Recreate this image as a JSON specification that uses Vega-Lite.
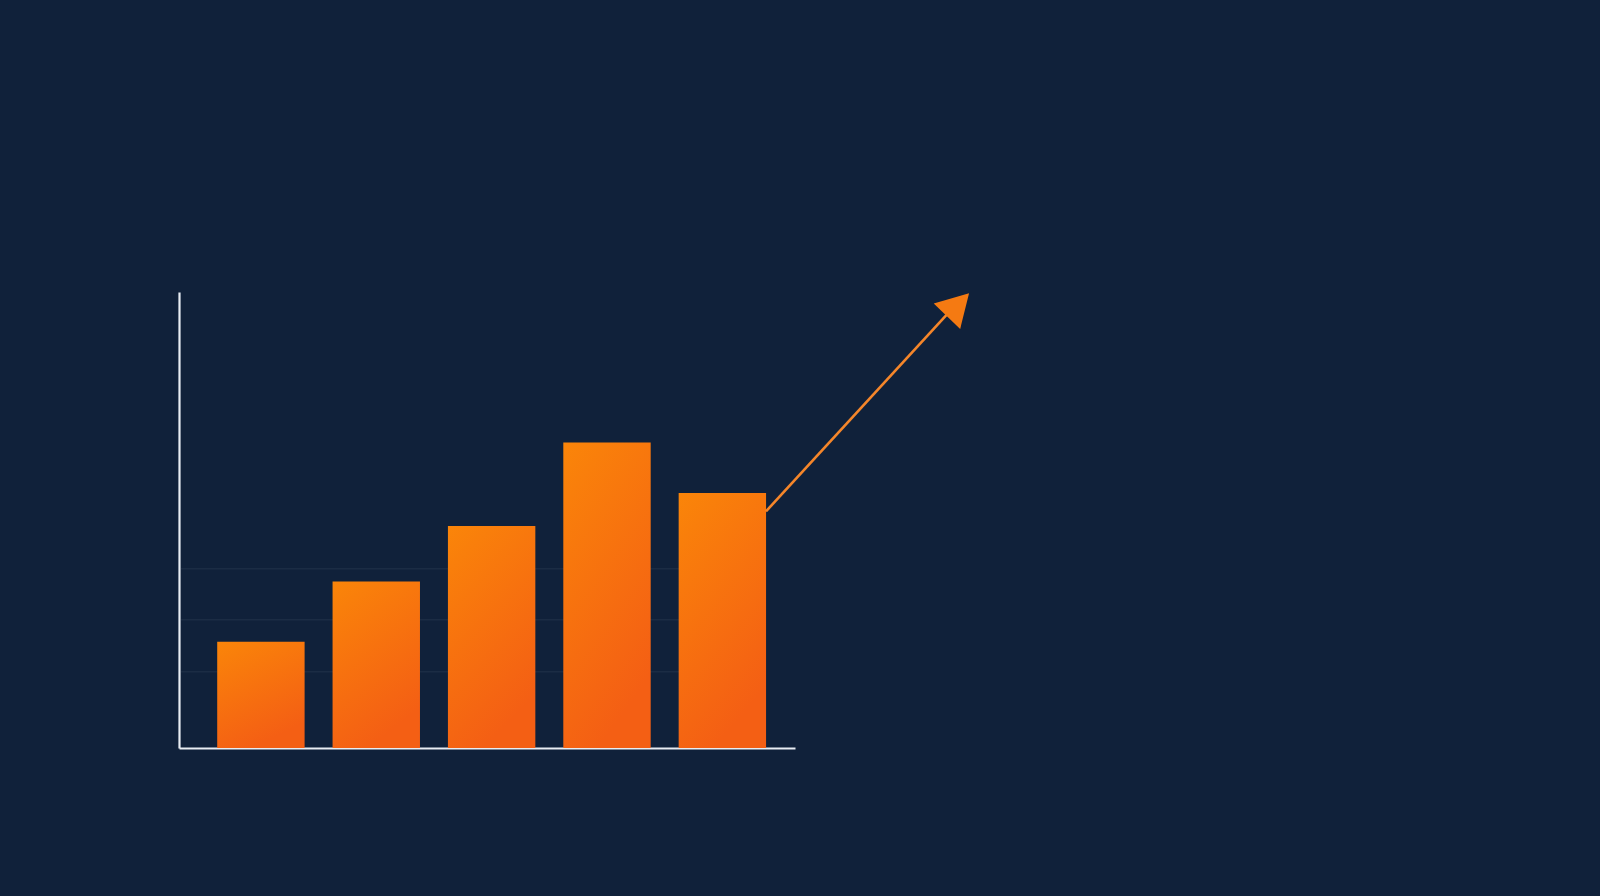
{
  "$schema": "https://vega.github.io/schema/vega-lite/v6.json",
  "description": "Five rising orange bars with an upward arrow on a dark navy background.",
  "autosize": "none",
  "width": 616,
  "height": 456,
  "padding": {"left": 179, "top": 292, "right": 805, "bottom": 148},
  "background": "#10213a",
  "config": {
    "view": {"stroke": null},
    "axis": {"grid": false, "ticks": false, "labels": false, "title": null, "domain": true, "domainColor": "#e8edf3", "domainWidth": 2.2}
  },
  "datasets": {
    "bars": [
      {"period": "A", "value": 23.3},
      {"period": "B", "value": 36.5},
      {"period": "C", "value": 48.7},
      {"period": "D", "value": 67.0},
      {"period": "E", "value": 55.9}
    ],
    "grid": [
      {"x": 2, "x2": 528, "y": 16.7},
      {"x": 2, "x2": 528, "y": 28.1},
      {"x": 2, "x2": 528, "y": 39.3}
    ],
    "arrow": [
      {"x": 587, "y": 51.9},
      {"x": 771, "y": 95.8}
    ],
    "head": [
      {"x": 779, "y": 97.2}
    ]
  },
  "resolve": {"scale": {"x": "independent"}},
  "layer": [
    {
      "data": {"name": "grid"},
      "mark": {"type": "rule", "stroke": "#1b2c44", "strokeWidth": 1.5},
      "encoding": {
        "x": {"field": "x", "type": "quantitative", "scale": {"domain": [0, 616]}, "axis": null},
        "x2": {"field": "x2"},
        "y": {"field": "y", "type": "quantitative", "scale": {"domain": [0, 100], "nice": false}}
      }
    },
    {
      "data": {"name": "bars"},
      "mark": {
        "type": "bar",
        "color": {
          "gradient": "linear",
          "x1": 0, "y1": 0, "x2": 0.4, "y2": 1,
          "stops": [
            {"offset": 0, "color": "#fa8509"},
            {"offset": 1, "color": "#f45f14"}
          ]
        }
      },
      "encoding": {
        "x": {
          "field": "period",
          "type": "nominal",
          "scale": {"paddingInner": 0.2424, "paddingOuter": 0.291, "align": 0.569},
          "axis": {"domain": true, "ticks": false, "labels": false, "title": null}
        },
        "y": {
          "field": "value",
          "type": "quantitative",
          "scale": {"domain": [0, 100], "nice": false},
          "axis": {"domain": true, "ticks": false, "labels": false, "grid": false, "title": null}
        }
      }
    },
    {
      "data": {"name": "arrow"},
      "mark": {"type": "line", "color": "#f5862a", "strokeWidth": 2.6, "clip": false},
      "encoding": {
        "x": {"field": "x", "type": "quantitative", "scale": {"domain": [0, 616]}, "axis": null},
        "y": {"field": "y", "type": "quantitative", "scale": {"domain": [0, 100], "nice": false}}
      }
    },
    {
      "data": {"name": "head"},
      "mark": {"type": "point", "shape": "triangle-up", "filled": true, "color": "#f57a12", "opacity": 1, "size": 1350, "angle": 44, "clip": false},
      "encoding": {
        "x": {"field": "x", "type": "quantitative", "scale": {"domain": [0, 616]}, "axis": null},
        "y": {"field": "y", "type": "quantitative", "scale": {"domain": [0, 100], "nice": false}}
      }
    }
  ]
}
